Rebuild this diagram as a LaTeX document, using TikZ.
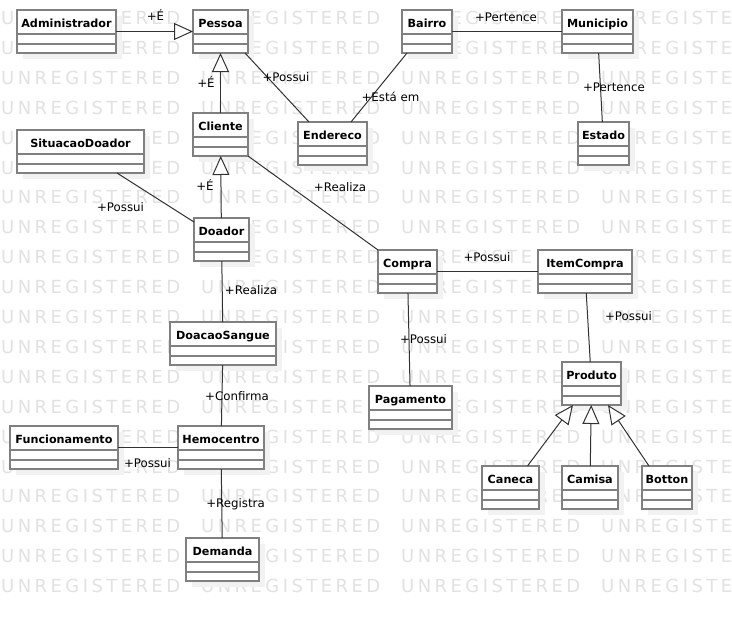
\documentclass[tikz,border=0pt]{standalone}
\usepackage{fontspec}
\setmainfont{DejaVu Sans}
\newfontfamily\wmfont[LetterSpace=19]{DejaVu Sans}
\usetikzlibrary{arrows.meta,shadows}

\definecolor{boxgray}{RGB}{128,128,128}
\definecolor{wmgray}{RGB}{226,226,226}
\definecolor{shadowgray}{RGB}{242,242,242}
\definecolor{linegray}{RGB}{50,50,50}

\begin{document}
\begin{tikzpicture}[x=1pt, y=-1pt,
    umlclass/.style={draw=boxgray, line width=1.8pt, fill=white, anchor=north west,
        inner sep=0pt, outer sep=0pt, minimum height=43pt, text height=17pt, text depth=26pt,
        font=\fontsize{11.2}{13}\selectfont\bfseries,
        general shadow={fill=shadowgray, shadow xshift=6pt, shadow yshift=-6pt},
        path picture={
          \draw[boxgray, line width=1.8pt]
            ([yshift=-24pt]path picture bounding box.north west) -- ([yshift=-24pt]path picture bounding box.north east)
            ([yshift=-34pt]path picture bounding box.north west) -- ([yshift=-34pt]path picture bounding box.north east);}},
    assoc/.style={draw=linegray, line width=1pt},
    inherit/.style={assoc, -{Triangle[length=19pt, width=17pt, fill=white]}},
    lbl/.style={anchor=base, inner sep=0pt, font=\fontsize{11.8}{14}\selectfont},
    watermark/.style={anchor=base west, inner sep=0pt, text=wmgray, font=\wmfont\fontsize{18}{20}\selectfont}]

  \fill[white] (0,0) rectangle (732,622);
  \useasboundingbox (0,0) rectangle (732,622);

  % watermark
  \begin{scope}
    \clip (0,0) rectangle (732,622);
    \foreach \r in {0,...,19}
      \foreach \c in {0,...,3}
        \node[watermark] (wm-\r-\c) at (\c*200+1, 24.5+\r*29.9) {UNREGISTERED};
  \end{scope}

  % classes
  \node[umlclass, minimum width=99pt]  (adm)           at (17,10)   {Administrador};
  \node[umlclass, minimum width=55pt]  (pessoa)        at (193,10)  {Pessoa};
  \node[umlclass, minimum width=55pt]  (cliente)       at (193,113) {Cliente};
  \node[umlclass, minimum width=127pt] (situacao)      at (17,130)  {SituacaoDoador};
  \node[umlclass, minimum width=50pt]  (bairro)        at (402,10)  {Bairro};
  \node[umlclass, minimum width=69pt]  (endereco)      at (298,122) {Endereco};
  \node[umlclass, minimum width=71pt]  (municipio)     at (562,10)  {Municipio};
  \node[umlclass, minimum width=51pt]  (estado)        at (578,122) {Estado};
  \node[umlclass, minimum width=55pt]  (doador)        at (194,218) {Doador};
  \node[umlclass, minimum width=106pt] (doacao)        at (170,322) {DoacaoSangue};
  \node[umlclass, minimum width=59pt]  (compra)        at (378,250) {Compra};
  \node[umlclass, minimum width=94pt]  (item)          at (538,250) {ItemCompra};
  \node[umlclass, minimum width=59pt]  (produto)       at (562,362) {Produto};
  \node[umlclass, minimum width=83pt]  (pagamento)     at (369,386) {Pagamento};
  \node[umlclass, minimum width=57pt]  (caneca)        at (482,466) {Caneca};
  \node[umlclass, minimum width=56pt]  (camisa)        at (562,466) {Camisa};
  \node[umlclass, minimum width=50pt]  (botton)        at (642,466) {Botton};
  \node[umlclass, minimum width=108pt] (funcionamento) at (10,426)  {Funcionamento};
  \node[umlclass, minimum width=86pt]  (hemocentro)    at (178,426) {Hemocentro};
  \node[umlclass, minimum width=73pt]  (demanda)       at (186,538) {Demanda};

  % connectors
  \draw[inherit] (adm) -- (pessoa) node[lbl] (l-adm) at (155.5,20.5) {+É};
  \draw[inherit] (cliente) -- (pessoa) node[lbl] (l-cli) at (206,87) {+É};
  \draw[assoc] ([xshift=-3pt]pessoa.south east) -- ([xshift=11pt]endereco.north west)
    node[lbl] (l-end) at (286,81) {+Possui};
  \draw[assoc] ([xshift=5pt]bairro.south west) -- ([xshift=53pt]endereco.north west)
    node[lbl] (l-bai) at (390.5,101) {+Está em};
  \draw[assoc] (bairro) -- (municipio) node[lbl] (l-mun) at (506,21) {+Pertence};
  \draw[assoc] (municipio) -- (estado) node[lbl] (l-est) at (614,91) {+Pertence};
  \draw[inherit] (doador) -- (cliente) node[lbl] (l-doa) at (205,190) {+É};
  \draw[assoc] ([xshift=-27pt]situacao.south east) -- ([yshift=-4pt]doador.north west)
    node[lbl] (l-sit) at (120.5,211) {+Possui};
  \draw[assoc] (cliente.south east) -- (compra.north west) node[lbl] (l-com) at (340,191) {+Realiza};
  \draw[assoc] (doador) -- (doacao) node[lbl] (l-san) at (251,294) {+Realiza};
  \draw[assoc] (doacao) -- (hemocentro) node[lbl] (l-hem) at (237,400) {+Confirma};
  \draw[assoc] (funcionamento) -- (hemocentro) node[lbl] (l-fun) at (147.5,467) {+Possui};
  \draw[assoc] (hemocentro) -- (demanda) node[lbl] (l-dem) at (235.5,507) {+Registra};
  \draw[assoc] (compra) -- (item) node[lbl] (l-ite) at (487,261) {+Possui};
  \draw[assoc] (compra) -- (pagamento) node[lbl] (l-pag) at (423.5,343) {+Possui};
  \draw[assoc] (item) -- (produto) node[lbl] (l-pro) at (628.5,320) {+Possui};
  \draw[inherit] ([xshift=17pt]caneca.north) -- ([xshift=11pt]produto.south west);
  \draw[inherit] (camisa) -- (produto);
  \draw[inherit] ([xshift=7pt]botton.north west) -- ([xshift=-13pt]produto.south east);
\end{tikzpicture}
\end{document}
